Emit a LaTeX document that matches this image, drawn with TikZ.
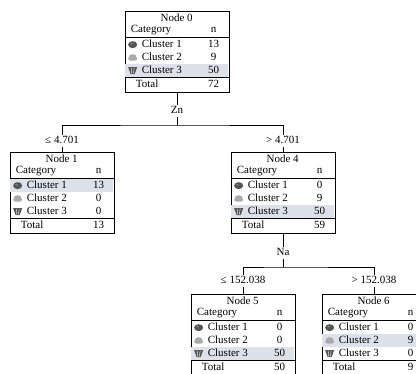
\documentclass[tikz,border=0pt]{standalone}
\usepackage{fontspec}
\setmainfont{Liberation Serif}
\usepackage{tikz}

\definecolor{rowshade}{RGB}{221,225,233}
\definecolor{icondark}{RGB}{85,85,85}
\definecolor{iconlight}{RGB}{170,170,170}

% little cluster icons
\newcommand{\iconone}[1]{\fill[icondark] (#1) ellipse (4.5pt and 3.5pt);
  \fill[gray] (#1) +(-1,-1) ellipse (1.5pt and 1pt);}
\newcommand{\icontwo}[1]{\fill[iconlight] (#1) +(-4.5,1.5) -- +(-3,-2.5) -- +(0,-3.5)
  -- +(3,-2.5) -- +(4.5,1.5) -- +(2.5,3) -- +(-2.5,3) -- cycle;}
\newcommand{\iconthree}[1]{\fill[icondark] (#1) +(-4.5,-3.5) -- +(4.5,-3.5)
  -- +(2,3.5) -- +(-2,3.5) -- cycle;
  \draw[white,line width=0.4pt] (#1) +(-1.5,-3) -- +(-0.8,3) +(1.5,-3) -- +(0.8,3);}

% one node table: name, title, three counts, total, shaded row
\newcommand{\nodetable}[7]{%
  \begin{scope}[shift={(#1.north west)}]
    \fill[rowshade] (0.6,{27.5+13*(#7-1)}) rectangle (103.4,{40.5+13*(#7-1)});
    \node[txt] at (52,8.5) {#2};
    \node[txt,anchor=west] at (6,19.5) {Category};
    \node[txt] at (89,19.5) {n};
    \draw[sep] (0,26.5) -- (104,26.5);
    \iconone{8,34}
    \icontwo{8,47}
    \iconthree{8,60}
    \node[txt,anchor=west] at (17,34) {Cluster 1};
    \node[txt,anchor=west] at (17,47) {Cluster 2};
    \node[txt,anchor=west] at (17,60) {Cluster 3};
    \node[txt] at (89,34) {#3};
    \node[txt] at (89,47) {#4};
    \node[txt] at (89,60) {#5};
    \draw[sep] (0,67) -- (104,67);
    \node[txt,anchor=west] at (11,74) {Total};
    \node[txt] at (89,74) {#6};
  \end{scope}
}

\begin{document}
\begin{tikzpicture}[x=1pt,y=-1pt]
\tikzstyle{tbox}=[draw, line width=0.7pt, minimum width=104pt, minimum height=81pt, inner sep=0pt]
\tikzstyle{txt}=[font=\fontsize{11}{12}\selectfont, inner sep=0pt, text height=7.5pt, text depth=2pt]
\tikzstyle{sep}=[line width=1.1pt]
\tikzstyle{split}=[txt, fill=white, inner sep=1.5pt]
\tikzstyle{link}=[line width=0.7pt]

\useasboundingbox (0,0) rectangle (416,374);
\clip (0,0) rectangle (416,374);

% boxes
\node[tbox] (n0) at (177,51.5) {};
\node[tbox] (n1) at (62,192.5) {};
\node[tbox] (n4) at (283,192.5) {};
\node[tbox] (n5) at (243,334.5) {};
\node[tbox] (n6) at (374,334.5) {};

\nodetable{n0}{Node 0}{13}{9}{50}{72}{3}
\nodetable{n1}{Node 1}{13}{0}{0}{13}{1}
\nodetable{n4}{Node 4}{0}{9}{50}{59}{3}
\nodetable{n5}{Node 5}{0}{0}{50}{50}{3}
\nodetable{n6}{Node 6}{0}{9}{0}{9}{2}

% split labels
\node[split] (zn) at (177,111) {Zn};
\node[split] (l1) at (62,141) {≤ 4.701};
\node[split] (l4) at (283,141) {> 4.701};
\node[split] (na) at (283,253) {Na};
\node[split] (l5) at (243,281) {≤ 152.038};
\node[split] (l6) at (374,281) {> 152.038};
\coordinate (b0) at (177,125);
\coordinate (b4) at (283,267);

% connectors
\draw[link] (n0) -- (zn);
\draw[link] (zn) -- (b0);
\draw[link] (l1) |- (b0) -| (l4);
\draw[link] (l1) -- (n1);
\draw[link] (l4) -- (n4);
\draw[link] (n4) -- (na);
\draw[link] (na) -- (b4);
\draw[link] (l5) |- (b4) -| (l6);
\draw[link] (l5) -- (n5);
\draw[link] (l6) -- (n6);
\end{tikzpicture}
\end{document}
